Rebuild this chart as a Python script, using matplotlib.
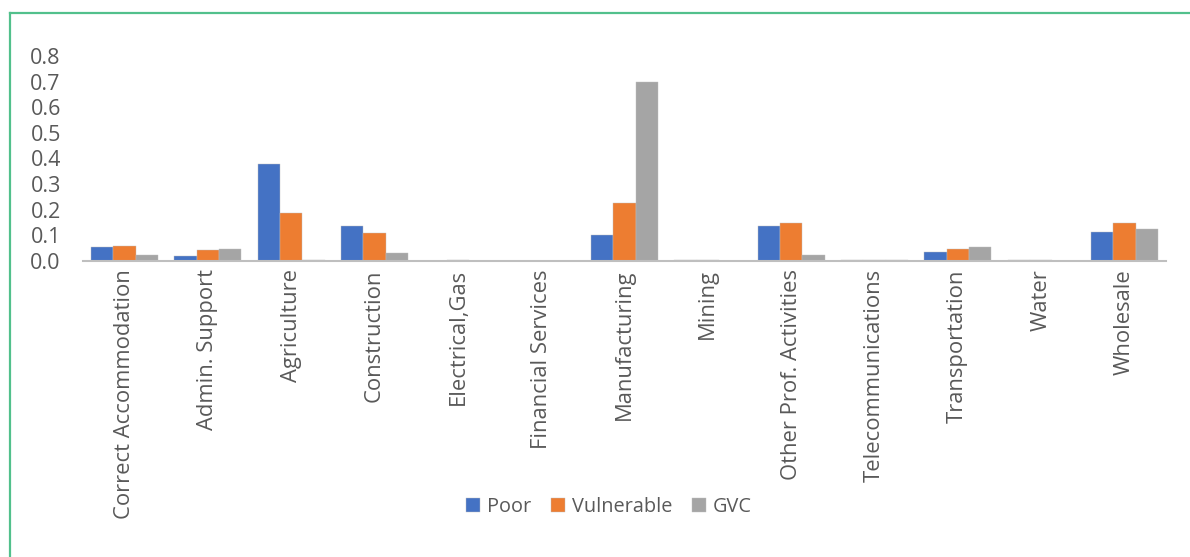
import matplotlib
matplotlib.use("Agg")
import matplotlib.pyplot as plt
from matplotlib.lines import Line2D
import numpy as np

categories = ["Correct Accommodation", "Admin. Support", "Agriculture", "Construction",
              "Electrical,Gas", "Financial Services", "Manufacturing", "Mining",
              "Other Prof. Activities", "Telecommunications", "Transportation", "Water",
              "Wholesale"]
poor = [0.054, 0.020, 0.377, 0.137, 0.001, 0.0, 0.102, 0.002, 0.137, 0.003, 0.036, 0.003, 0.112]
vulnerable = [0.058, 0.044, 0.189, 0.111, 0.003, 0.0, 0.225, 0.002, 0.148, 0.003, 0.048, 0.003, 0.148]
gvc = [0.022, 0.048, 0.002, 0.030, 0.0, 0.0, 0.698, 0.0, 0.022, 0.002, 0.054, 0.001, 0.123]
series_names = ["Poor", "Vulnerable", "GVC"]
yticks = [0.0, 0.1, 0.2, 0.3, 0.4, 0.5, 0.6, 0.7, 0.8]

colors = ["#4472C4", "#ED7D31", "#A5A5A5"]
txt = "#595959"
plt.rcParams['font.family'] = ['Open Sans', 'DejaVu Sans']

W, H = 1190, 557
fig = plt.figure(figsize=(W / 100, H / 100), dpi=100)
ax = fig.add_axes([83 / W, 1 - 261 / H, (1166 - 83) / W, (261 - 56) / H])

x = np.arange(len(categories))
bw = 0.268
for i, (vals, name) in enumerate(zip([poor, vulnerable, gvc], series_names)):
    ax.bar(x + (i - 1) * bw, vals, width=bw, color=colors[i], label=name,
           edgecolor="#bfbfbf", linewidth=0.3)

ax.set_xlim(-0.5, len(categories) - 0.5)
ax.set_ylim(0, 0.8)
ax.set_yticks(yticks)
ax.set_yticklabels([f"{v:.1f}" for v in yticks], fontsize=15.5, color=txt)
ax.set_xticks(x)
ax.set_xticklabels(categories, rotation=90, fontsize=15.8, color=txt, va="top")
ax.tick_params(axis="y", length=0, pad=16)
ax.tick_params(axis="x", length=0, pad=6)
for s in ["top", "right", "left"]:
    ax.spines[s].set_visible(False)
ax.spines["bottom"].set_color("#bfbfbf")
ax.spines["bottom"].set_linewidth(1.5)

fig.legend(loc="center", bbox_to_anchor=(609 / W, 1 - 507 / H), ncol=3, frameon=False,
           fontsize=14.3, handlelength=0.7, handleheight=0.7, handletextpad=0.35,
           columnspacing=1.0, labelcolor=txt)

border = "#52c08c"
fig.add_artist(Line2D([9.5 / W, 1.0], [1 - 12.7 / H, 1 - 12.7 / H], color=border,
                      linewidth=1.6, transform=fig.transFigure))
fig.add_artist(Line2D([9.5 / W, 9.5 / W], [0.0, 1 - 12.7 / H], color=border,
                      linewidth=1.6, transform=fig.transFigure))

fig.savefig("out.png", dpi=100, facecolor="white")
